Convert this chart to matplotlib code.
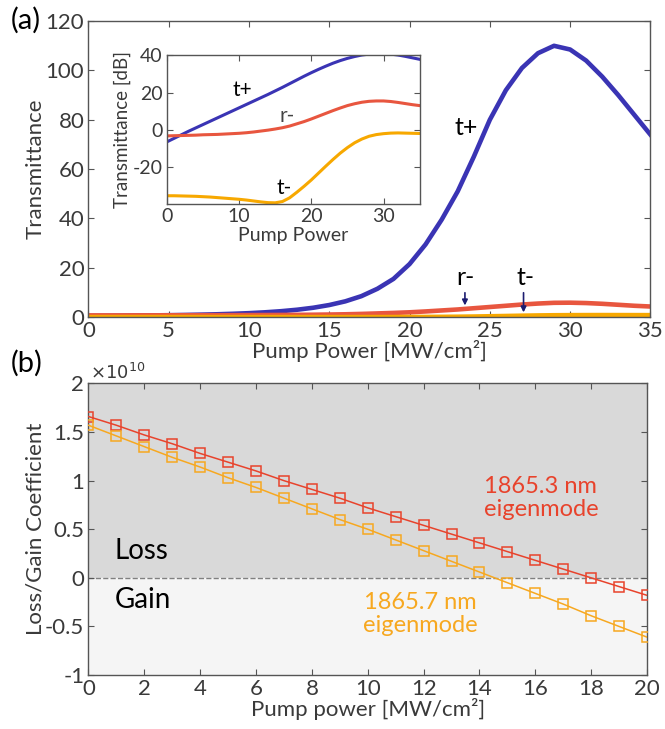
import matplotlib
matplotlib.use("Agg")
import matplotlib.pyplot as plt
import numpy as np

plt.rcParams['font.family'] = ['Lato', 'DejaVu Sans']
plt.rcParams['axes.unicode_minus'] = False

# ---- panel (a) data, linear transmittance vs pump power (MW/cm^2)
power_a = list(range(0, 36))
t_plus = [0.45, 0.5, 0.55, 0.62, 0.7, 0.78, 0.88, 1.0, 1.15, 1.35,
          1.6, 1.95, 2.4, 3.0, 3.8, 4.9, 6.4, 8.5, 11.5, 15.5,
          21.5, 29.5, 39.5, 51.0, 65.0, 80.0, 92.0, 101.0, 107.0, 110.0,
          108.5, 104.0, 97.5, 90.0, 82.0, 74.0]
r_minus = [0.7, 0.7, 0.7, 0.72, 0.73, 0.74, 0.75, 0.77, 0.78, 0.8,
           0.82, 0.85, 0.88, 0.92, 0.97, 1.05, 1.15, 1.3, 1.5, 1.7,
           1.95, 2.3, 2.7, 3.1, 3.6, 4.1, 4.6, 5.1, 5.5, 5.8,
           5.85, 5.7, 5.4, 5.0, 4.6, 4.3]
t_minus = [0.02, 0.02, 0.02, 0.02, 0.02, 0.02, 0.02, 0.02, 0.02, 0.02,
           0.02, 0.02, 0.02, 0.01, 0.01, 0.01, 0.01, 0.02, 0.02, 0.03,
           0.05, 0.07, 0.11, 0.16, 0.24, 0.35, 0.46, 0.58, 0.68, 0.76,
           0.8, 0.82, 0.83, 0.82, 0.81, 0.8]

# ---- inset data, transmittance in dB
t_plus_db = [-6.5, -4.6, -2.7, -0.8, 1.0, 2.8, 4.6, 6.4, 8.2, 10.0,
             11.8, 13.6, 15.4, 17.2, 19.0, 20.9, 22.8, 24.8, 26.8, 28.8,
             30.7, 32.5, 34.2, 35.8, 37.2, 38.4, 39.4, 40.2, 40.7, 41.0,
             41.0, 40.7, 40.2, 39.5, 38.7, 37.9]
r_minus_db = [-3.3, -3.2, -3.1, -3.0, -2.9, -2.7, -2.6, -2.5, -2.3, -2.1,
              -1.9, -1.6, -1.2, -0.7, -0.2, 0.4, 1.1, 2.0, 3.2, 4.4,
              5.8, 7.3, 8.8, 10.3, 11.7, 13.0, 14.0, 14.8, 15.3, 15.5,
              15.5, 15.2, 14.7, 14.1, 13.5, 13.0]
t_minus_db = [-35.5, -35.5, -35.6, -35.7, -35.8, -36.0, -36.2, -36.5, -36.8, -37.1,
              -37.4, -37.8, -38.3, -38.8, -39.2, -39.3, -38.6, -36.6, -33.6, -30.4,
              -27.0, -23.3, -19.6, -16.0, -12.6, -9.6, -7.0, -5.0, -3.5, -2.6,
              -2.1, -1.8, -1.7, -1.8, -1.9, -2.0]

# ---- panel (b) data, loss/gain coefficient (x1e10)
power_b = list(range(0, 21))
mode_1865_3 = [1.66, 1.57, 1.47, 1.38, 1.28, 1.19, 1.10, 1.00, 0.91, 0.82,
               0.72, 0.63, 0.54, 0.45, 0.36, 0.27, 0.18, 0.09, 0.0, -0.09, -0.18]
mode_1865_7 = [1.57, 1.46, 1.35, 1.24, 1.14, 1.03, 0.93, 0.82, 0.71, 0.60,
               0.50, 0.39, 0.28, 0.17, 0.06, -0.05, -0.16, -0.27, -0.39, -0.50, -0.61]

blue = '#3a34b4'
red = '#e8563f'
yellow = '#f7a800'
red_b = '#e8432c'
orange_b = '#f7a820'
txt = '#3a3a3a'
ax_col = '#555555'


def style(ax, fs):
    for s in ax.spines.values():
        s.set_color(ax_col)
        s.set_linewidth(1.0)
    ax.tick_params(direction='in', top=True, right=True, colors=ax_col,
                   labelcolor=txt, labelsize=fs, length=4, pad=3)


fig = plt.figure(figsize=(6.65, 7.29), dpi=100)

# ---------------- (a)
ax = fig.add_axes([0.133, 0.565, 0.845, 0.406])
ax.plot(power_a, t_plus, color=blue, lw=3.3)
ax.plot(power_a, r_minus, color=red, lw=3.3)
ax.plot(power_a, t_minus, color=yellow, lw=3.3)
ax.set_xlim(0, 35)
ax.set_ylim(0, 120)
ax.set_xticks(range(0, 36, 5))
ax.set_yticks(range(0, 121, 20))
style(ax, 16)
ax.set_xlabel('Pump Power [MW/cm²]', fontsize=16, color=txt, labelpad=-1)
ax.set_ylabel('Transmittance', fontsize=16, color=txt, labelpad=0)
ax.text(23.5, 77, 't+', fontsize=18, color='black', ha='center', va='center')
ax.text(23.5, 16, 'r-', fontsize=18, color='black', ha='center', va='center')
ax.text(27.2, 16, 't-', fontsize=18, color='black', ha='center', va='center')
ax.annotate('', xy=(23.45, 3.6), xytext=(23.45, 11),
            arrowprops=dict(arrowstyle='-|>', color='#1c1c70', lw=1.2, mutation_scale=8))
ax.annotate('', xy=(27.1, 0.8), xytext=(27.1, 11),
            arrowprops=dict(arrowstyle='-|>', color='#1c1c70', lw=1.2, mutation_scale=8))
fig.text(0.016, 0.972, '(a)', fontsize=21, color='black', ha='left', va='center')

# ---------------- inset
ins = fig.add_axes([0.251, 0.720, 0.380, 0.204])
ins.plot(power_a, t_plus_db, color=blue, lw=2.2)
ins.plot(power_a, r_minus_db, color=red, lw=2.2)
ins.plot(power_a, t_minus_db, color=yellow, lw=2.2)
ins.set_xlim(0, 35)
ins.set_ylim(-40, 40)
ins.set_xticks([0, 10, 20, 30])
ins.set_yticks([-20, 0, 20, 40])
style(ins, 14)
ins.set_xlabel('Pump Power', fontsize=14, color=txt, labelpad=1)
ins.set_ylabel('Transmittance [dB]', fontsize=13.5, color=txt, labelpad=1)
ins.text(10.5, 21.5, 't+', fontsize=15, color='black', ha='center', va='center')
ins.text(16.6, 7.5, 'r-', fontsize=15, color='#444444', ha='center', va='center')
ins.text(16.2, -31.5, 't-', fontsize=15, color='black', ha='center', va='center')

# ---------------- (b)
bx = fig.add_axes([0.133, 0.074, 0.840, 0.400])
bx.axhspan(0, 2, color='#d9d9d9', zorder=0)
bx.axhspan(-1, 0, color='#f5f5f5', zorder=0)
bx.axhline(0, color='#808080', lw=1, ls='--', zorder=1)
bx.plot(power_b, mode_1865_3, color=red_b, lw=1.1, marker='s', ms=7,
        mfc='none', mec=red_b, mew=1.1, zorder=3)
bx.plot(power_b, mode_1865_7, color=orange_b, lw=1.1, marker='s', ms=7,
        mfc='none', mec=orange_b, mew=1.1, zorder=3)
bx.set_xlim(0, 20)
bx.set_ylim(-1, 2)
bx.set_xticks(range(0, 21, 2))
bx.set_yticks([-1, -0.5, 0, 0.5, 1, 1.5, 2])
bx.set_yticklabels(['-1', '-0.5', '0', '0.5', '1', '1.5', '2'])
style(bx, 16)
bx.set_xlabel('Pump power [MW/cm²]', fontsize=16, color=txt, labelpad=-1)
bx.set_ylabel('Loss/Gain Coefficient', fontsize=16, color=txt, labelpad=0)
bx.text(0.003, 1.005, r'$\times10^{10}$', transform=bx.transAxes, fontsize=13,
        color=txt, ha='left', va='bottom')
bx.text(0.95, 0.28, 'Loss', fontsize=20, color='black', ha='left', va='center')
bx.text(0.95, -0.23, 'Gain', fontsize=20, color='black', ha='left', va='center')
bx.text(16.2, 0.82, '1865.3 nm\neigenmode', fontsize=17, color=red_b,
        ha='center', va='center', linespacing=1.15)
bx.text(11.9, -0.37, '1865.7 nm\neigenmode', fontsize=17, color=orange_b,
        ha='center', va='center', linespacing=1.15)
fig.text(0.016, 0.502, '(b)', fontsize=21, color='black', ha='left', va='center')

fig.savefig('out.png', dpi=100)
